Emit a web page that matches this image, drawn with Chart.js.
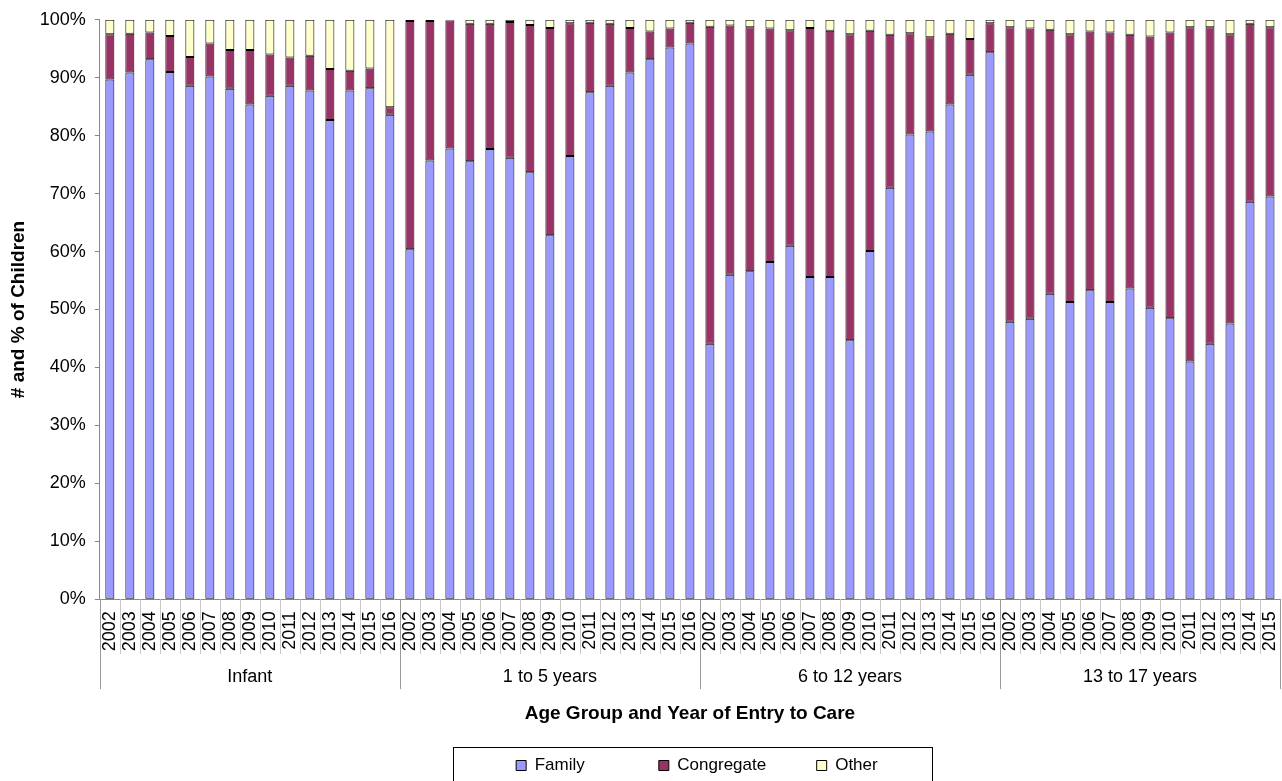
<!DOCTYPE html>
<html>
<head>
<meta charset="utf-8">
<script src="https://cdn.jsdelivr.net/npm/chart.js@4"></script>
<style>
  body { margin: 0; background: #fff; }
  #wrap { width: 1282px; height: 781px; position: relative; }
</style>
</head>
<body>
<div id="wrap"><canvas id="chart"></canvas></div>
<script>
// age groups and the entry years shown under each
const groupNames = ['Infant', '1 to 5 years', '6 to 12 years', '13 to 17 years'];
const groupYears = [
    ['2002','2003','2004','2005','2006','2007','2008','2009','2010','2011','2012','2013','2014','2015','2016'],
    ['2002','2003','2004','2005','2006','2007','2008','2009','2010','2011','2012','2013','2014','2015','2016'],
    ['2002','2003','2004','2005','2006','2007','2008','2009','2010','2011','2012','2013','2014','2015','2016'],
    ['2002','2003','2004','2005','2006','2007','2008','2009','2010','2011','2012','2013','2014','2015']
];

// % of children per placement type, one value per bar (group by group)
const family = [
    89.7, 90.9, 93.2, 91.0, 88.6, 90.2, 88.1, 85.4, 86.9, 88.6, 87.8, 82.7, 87.8, 88.2, 83.6,
    60.4, 75.7, 77.8, 75.6, 77.7, 76.2, 73.7, 62.8, 76.5, 87.5, 88.6, 90.9, 93.2, 95.2, 95.9,
    44.1, 56.0, 56.6, 58.2, 61.0, 55.6, 55.6, 44.7, 60.1, 71.0, 80.2, 80.7, 85.4, 90.5, 94.4,
    47.9, 48.4, 52.7, 51.3, 53.3, 51.3, 53.6, 50.3, 48.5, 41.0, 44.1, 47.6, 68.6, 69.5
];
const congregate = [
    7.8, 6.7, 4.6, 6.2, 5.0, 5.7, 6.7, 9.4, 7.1, 4.9, 6.0, 8.8, 3.4, 3.4, 1.3,
    39.4, 24.1, 22.1, 23.7, 21.6, 23.4, 25.4, 35.8, 22.9, 12.0, 10.7, 7.7, 4.8, 3.3, 3.6,
    54.7, 43.0, 42.1, 40.3, 37.2, 43.0, 42.5, 52.8, 38.0, 26.4, 17.5, 16.3, 12.2, 6.2, 5.0,
    50.8, 50.1, 45.6, 46.2, 44.7, 46.5, 43.8, 46.8, 49.3, 57.7, 54.6, 49.9, 30.7, 29.2
];
const other = [
    2.5, 2.4, 2.2, 2.8, 6.4, 4.1, 5.2, 5.2, 6.0, 6.5, 6.2, 8.5, 8.8, 8.4, 15.1,
    0.2, 0.2, 0.1, 0.7, 0.7, 0.4, 0.9, 1.4, 0.6, 0.5, 0.7, 1.4, 2.0, 1.5, 0.5,
    1.2, 1.0, 1.3, 1.5, 1.8, 1.4, 1.9, 2.5, 1.9, 2.6, 2.3, 3.0, 2.4, 3.3, 0.6,
    1.3, 1.5, 1.7, 2.5, 2.0, 2.2, 2.6, 2.9, 2.2, 1.3, 1.3, 2.5, 0.7, 1.3
];
const yTicks = [0, 10, 20, 30, 40, 50, 60, 70, 80, 90, 100];

const FONT = '"Liberation Sans", Arial, sans-serif';
const labels = groupYears.flat();

// index where each group starts, plus the end
const groupStarts = [];
let n = 0;
groupYears.forEach(g => { groupStarts.push(n); n += g.length; });
groupStarts.push(n);

// separators under the axis, group names, and the legend frame
const groupAxis = {
    id: 'groupAxis',
    afterLayout(chart) {
        // the original legend sits a bit right of centre
        chart.legend.left += 7;
        chart.legend.right += 7;
    },
    afterDraw(chart) {
        const ctx = chart.ctx;
        const x = chart.scales.x;
        const bottom = chart.chartArea.bottom;
        const step = x.width / labels.length;
        ctx.save();
        ctx.lineWidth = 1;
        for (let i = 0; i <= labels.length; i++) {
            const px = Math.round(x.left + i * step) + 0.5;
            const isGroup = groupStarts.includes(i);
            ctx.strokeStyle = isGroup ? '#999' : '#c8c8c8';
            ctx.beginPath();
            ctx.moveTo(px, bottom);
            ctx.lineTo(px, bottom + (isGroup ? 90 : 55));
            ctx.stroke();
        }
        ctx.fillStyle = '#000';
        ctx.font = '18px ' + FONT;
        ctx.textAlign = 'center';
        ctx.textBaseline = 'middle';
        groupNames.forEach((name, g) => {
            const cx = x.left + (groupStarts[g] + groupStarts[g + 1]) / 2 * step;
            ctx.fillText(name, cx, bottom + 78);
        });

        const boxes = chart.legend.legendHitBoxes;
        if (boxes && boxes.length) {
            const first = boxes[0];
            const last = boxes[boxes.length - 1];
            const left = Math.round(first.left - 63);
            ctx.strokeStyle = '#000';
            ctx.strokeRect(left + 0.5, Math.round(chart.legend.top - 2) + 0.5,
                Math.round(last.left + last.width + 54) - left, 60);
        }
        ctx.restore();
    }
};

const nb = k => '\u00a0'.repeat(k);
const legendGaps = [14, 9, 0];

new Chart(document.getElementById('chart'), {
    type: 'bar',
    data: {
        labels: labels,
        datasets: [
            { label: 'Family', data: family, backgroundColor: '#9999FF' },
            { label: 'Congregate', data: congregate, backgroundColor: '#993366' },
            { label: 'Other', data: other, backgroundColor: '#FFFFCC' }
        ].map(d => Object.assign(d, {
            borderColor: '#000',
            borderWidth: 1,
            borderSkipped: false,
            categoryPercentage: 1,
            barPercentage: 0.45
        }))
    },
    options: {
        responsive: true,
        maintainAspectRatio: false,
        animation: false,
        layout: { padding: { top: 15, right: 2, left: 0, bottom: 0 } },
        plugins: {
            tooltip: { enabled: false },
            legend: {
                position: 'bottom',
                fullSize: false,
                maxHeight: 32,
                labels: {
                    boxWidth: 10,
                    boxHeight: 10,
                    padding: 8,
                    color: '#000',
                    font: { family: FONT, size: 17 },
                    generateLabels(chart) {
                        const items = Chart.defaults.plugins.legend.labels.generateLabels(chart);
                        items.forEach((it, i) => { it.text = it.text + nb(legendGaps[i]); });
                        return items;
                    }
                }
            }
        },
        scales: {
            x: {
                stacked: true,
                grid: { display: false, drawTicks: false },
                border: { display: true, color: '#888' },
                // rotated year labels need no side room here
                afterFit(scale) { scale.paddingLeft = 0; scale.paddingRight = 0; },
                ticks: {
                    autoSkip: false,
                    minRotation: 90,
                    maxRotation: 90,
                    padding: 12,
                    color: '#000',
                    font: { family: FONT, size: 18 }
                },
                title: {
                    display: true,
                    text: 'Age Group and Year of Entry to Care',
                    color: '#000',
                    font: { family: FONT, size: 19, weight: 'bold' },
                    padding: { top: 39, bottom: 24 }
                }
            },
            y: {
                stacked: true,
                min: 0,
                max: 100,
                afterBuildTicks(scale) { scale.ticks = yTicks.map(v => ({ value: v })); },
                grid: { display: true, drawOnChartArea: false, tickLength: 5, color: '#888' },
                border: { display: true, color: '#888' },
                ticks: {
                    padding: 9,
                    color: '#000',
                    font: { family: FONT, size: 18 },
                    callback: v => v + '%'
                },
                title: {
                    display: true,
                    text: '# and % of Children',
                    color: '#000',
                    font: { family: FONT, size: 19, weight: 'bold' },
                    padding: { top: 7, bottom: 1 }
                }
            }
        }
    },
    plugins: [groupAxis]
});
</script>
</body>
</html>
